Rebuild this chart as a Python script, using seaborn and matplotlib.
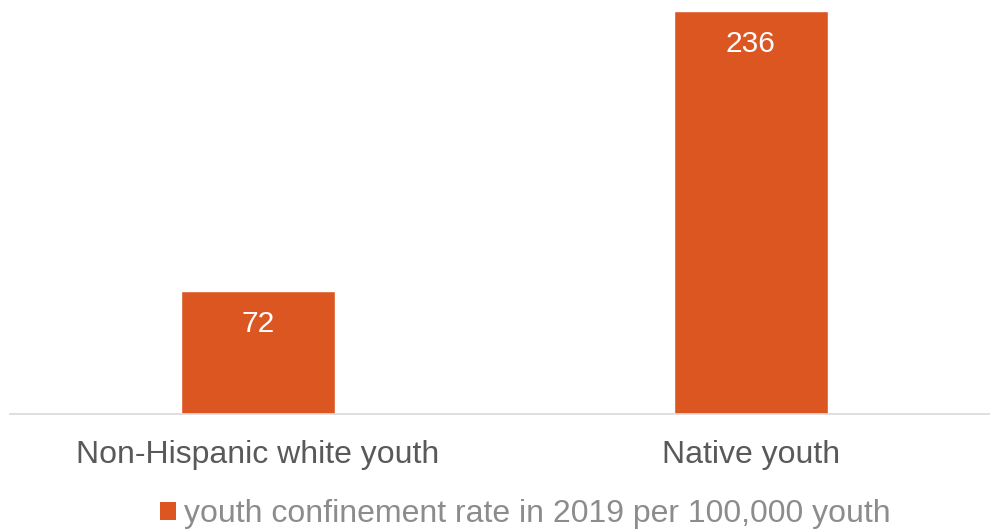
import matplotlib
matplotlib.use("Agg")
import matplotlib.pyplot as plt
import seaborn as sns
from matplotlib.patches import Patch

categories = ["Non-Hispanic white youth", "Native youth"]
values = [72, 236]
series_name = "youth confinement rate in 2019 per 100,000 youth"

BAR = "#DC5622"
sns.set_theme(style="white")
plt.rcParams["font.family"] = ["Liberation Sans", "DejaVu Sans"]

fig = plt.figure(figsize=(9.9, 5.3), dpi=100)
ax = fig.add_axes([10/990, 1 - 414/530, 980/990, 414/530])

sns.barplot(x=categories, y=values, color=BAR, width=0.314, saturation=1, ax=ax)

ax.set_xlim(-0.503, 1.485)
ax.set_ylim(0, 242.5)

for i, v in enumerate(values):
    ax.annotate(str(v), xy=(i, v), xytext=(0, -24), textcoords="offset points",
                ha="center", va="center", color="white", fontsize=21.5)

for s in ["top", "right", "left"]:
    ax.spines[s].set_visible(False)
ax.spines["bottom"].set_color("#d9d9d9")
ax.spines["bottom"].set_linewidth(1.2)
ax.set_yticks([])
ax.set_ylabel("")
ax.set_xlabel("")
ax.tick_params(axis="x", length=0, pad=18.5, labelsize=23, labelcolor="#595959")

leg = fig.legend(handles=[Patch(facecolor=BAR, edgecolor="none")], labels=[series_name],
                 loc="center", bbox_to_anchor=(525/990, 1 - 514/530), frameon=False,
                 fontsize=23, handlelength=0.5, handleheight=0.5, handletextpad=0.25,
                 borderpad=0, borderaxespad=0)
for t in leg.get_texts():
    t.set_color("#8c8c8c")

fig.savefig("out.png", dpi=100)
